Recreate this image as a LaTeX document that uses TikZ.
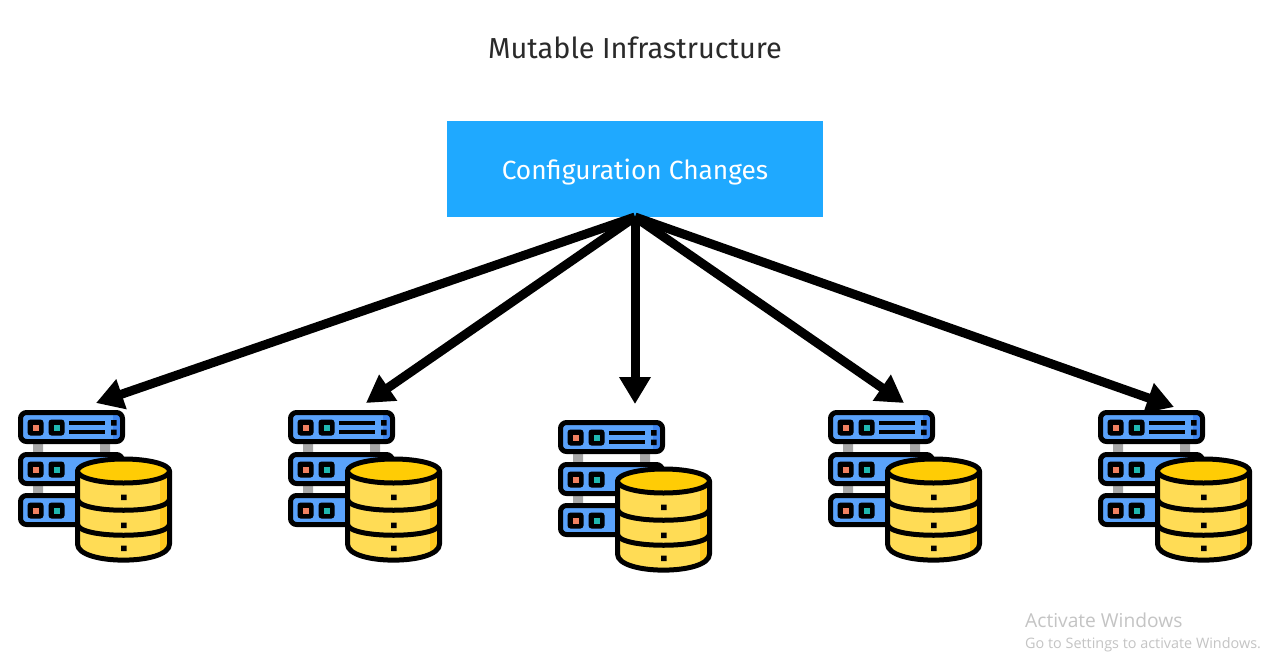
\documentclass[tikz,border=0pt]{standalone}
\usepackage{fontspec}
\setmainfont{Fira Sans}
\newfontfamily\winfont{Open Sans}
\usetikzlibrary{arrows.meta}
\definecolor{cfgblue}{HTML}{1FA9FF}
\definecolor{srvblue}{HTML}{5AA2FB}
\definecolor{srvdark}{HTML}{3F86F0}
\definecolor{dbtop}{HTML}{FFCC05}
\definecolor{dbbody}{HTML}{FFDC55}
\definecolor{dbside}{HTML}{FFC81E}
\definecolor{btnorange}{HTML}{F08060}
\definecolor{btnteal}{HTML}{1FB8B0}
\definecolor{railgrey}{HTML}{A8A8A8}
\definecolor{titlegrey}{HTML}{2A2A2A}
\definecolor{wingrey}{HTML}{C4C4C4}
\tikzset{
  x=1pt,y=-1pt,
  push/.style={line width=9pt,-{Triangle[length=27pt,width=30pt]}},
  icoline/.style={line width=5pt,draw=black,line join=round},
  pics/dbicon/.style={code={
    % rails
    \fill[railgrey] (15,33) rectangle (25,43) (82,33) rectangle (92,43) (15,75) rectangle (25,85);
    % servers
    \foreach \yy in {0,42,83}{
      \begin{scope}[yshift=-\yy pt]
        \begin{scope}
          \clip[rounded corners=6pt] (2.5,2.5) rectangle (104.5,31.5);
          \fill[srvblue] (2,2) rectangle (105,32);
          \fill[srvdark] (95,2) rectangle (105,32);
        \end{scope}
        \draw[icoline,rounded corners=6pt] (2.5,2.5) rectangle (104.5,31.5);
        \fill[black,rounded corners=3pt] (9.5,9.5) rectangle (25.5,25.5) (30.5,9.5) rectangle (46.5,25.5);
        \fill[btnorange] (14.5,14.5) rectangle (20.5,20.5);
        \fill[btnteal] (35.5,14.5) rectangle (41.5,20.5);
      \end{scope}
    }
    % top server lines
    \draw[line width=4.5pt] (51,13) -- (87,13) (51,22) -- (87,22);
    \fill[black] (93,10) rectangle (98.5,15.5) (93,19.5) rectangle (98.5,25);
    % database
    \begin{scope}
      \clip (59.5,61) -- (59.5,134) .. controls (59.5,155.5) and (151.5,155.5) .. (151.5,134) -- (151.5,61) -- cycle;
      \fill[dbbody] (55,45) rectangle (156,156);
      \fill[dbside] (142,45) rectangle (156,156);
    \end{scope}
    \draw[icoline] (59.5,61) -- (59.5,134) .. controls (59.5,155.5) and (151.5,155.5) .. (151.5,134) -- (151.5,61);
    \draw[icoline,fill=dbtop] (105.5,61) ellipse [x radius=46pt,y radius=12pt];
    \draw[icoline] (59.5,89) .. controls (59.5,104) and (151.5,104) .. (151.5,89);
    \draw[icoline] (59.5,114) .. controls (59.5,129) and (151.5,129) .. (151.5,114);
    \fill[black] (103,84.5) rectangle (108.5,90) (103,112.5) rectangle (108.5,118) (103,135.5) rectangle (108.5,141);
  }}
}
\begin{document}
\begin{tikzpicture}
\useasboundingbox[fill=white] (0,0) rectangle (1278,654);
\node[font=\fontsize{28.9}{32}\selectfont,text=titlegrey,inner sep=0pt] (title) at (635,48) {Mutable Infrastructure};
\node[fill=cfgblue,minimum width=376pt,minimum height=96pt,inner sep=0pt,text=white,font=\fontsize{26.3}{30}\selectfont] (cfg) at (635,169) {\raisebox{-10pt}[0pt][0pt]{Configuration Changes}};
\coordinate (hub) at (635,217);
\coordinate (t1) at (96,403);
\coordinate (t2) at (366,403);
\coordinate (t3) at (635,404);
\coordinate (t4) at (904,403);
\coordinate (t5) at (1174,407);
\foreach \t in {t1,t2,t3,t4,t5} \draw[push] (hub) -- (\t);
\pic at (18,410) {dbicon};
\pic at (288,410) {dbicon};
\pic at (558,420) {dbicon};
\pic at (828,410) {dbicon};
\pic at (1098,410) {dbicon};
\node[anchor=base west,inner sep=0pt,text=wingrey,font=\winfont\fontsize{19.2}{24}\selectfont] (act) at (1025,627) {Activate Windows};
\node[anchor=base west,inner sep=0pt,text=wingrey,font=\winfont\fontsize{14.4}{18}\selectfont] (go) at (1025,648) {Go to Settings to activate Windows.};
\end{tikzpicture}
\end{document}
